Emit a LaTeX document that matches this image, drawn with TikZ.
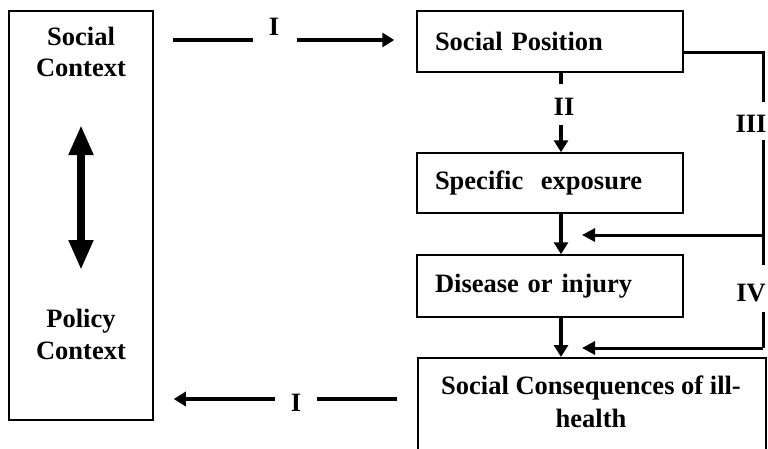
\documentclass[tikz,border=0pt]{standalone}
\usepackage{fontspec}
\setmainfont{Liberation Serif}
\usetikzlibrary{arrows.meta,calc}
\tikzset{
  box/.style={draw, line width=1.5pt, inner sep=0pt},
  wbox/.style={box, align=left, inner xsep=18pt, text width=230pt, minimum width=266pt},
  txt/.style={font=\fontsize{26.5}{31}\selectfont\bfseries, inner sep=0pt, align=center},
  conn/.style={line width=4pt, -{Triangle[length=12pt,width=14pt]}},
  plain/.style={line width=4pt},
  fb/.style={line width=3pt},
  fbarr/.style={line width=3pt, -{Triangle[length=13pt,width=13pt]}},
  big/.style={line width=8pt, {Triangle[length=30pt,width=23pt]}-{Triangle[length=30pt,width=23pt]}}
}
\begin{document}
\begin{tikzpicture}[x=1pt,y=-1pt]
\useasboundingbox (0,0) rectangle (768,448);
\clip (0,0) rectangle (768,448);
\fill[white] (0,0) rectangle (768,448);
% left box
\node[box, minimum width=144pt, minimum height=409pt] (ctx) at (81,215.5) {};
\node[txt] (sctx) at (81,52) {Social\\Context};
\node[txt, font=\fontsize{26.5}{32}\selectfont\bfseries] (pctx) at (81,334) {Policy\\Context};
\coordinate (dtop) at (81,125);
\coordinate (dbot) at (81,270);
\draw[big] (dtop) -- (dbot);
% right boxes
\node[wbox, minimum height=61pt, font=\fontsize{26.5}{31}\selectfont\bfseries] (sp) at (550,41.5) {Social Position};
\node[wbox, minimum height=60pt, font=\fontsize{26.5}{31}\selectfont\bfseries] (se) at (550,183) {Specific\ \ exposure};
\node[wbox, minimum height=62pt, font=\fontsize{26.5}{31}\selectfont\bfseries] (dis) at (550,286) {Disease or injury};
\node[box, anchor=north west, minimum width=348pt, minimum height=130pt] (cons) at (417,357) {};
\node[txt, font=\fontsize{26.5}{33}\selectfont\bfseries] (const) at (591,402) {Social Consequences of ill-\\health};
% I arrows
\node[txt] (i1) at (274,27) {I};
\coordinate (i1a) at (173,40);
\coordinate (i1b) at (253,40);
\coordinate (i1c) at (297,40);
\draw[plain] (i1a) -- (i1b);
\draw[conn] (i1c) -- ([xshift=-22pt]sp.west |- i1c);
\node[txt] (i2) at (296,403) {I};
\coordinate (i2a) at (397,399);
\coordinate (i2b) at (317,399);
\coordinate (i2c) at (275,399);
\draw[plain] (i2a) -- (i2b);
\draw[conn] (i2c) -- ([xshift=20pt]ctx.east |- i2c);
% II
\node[txt] (l2) at (564,107) {II};
\draw[plain] ([xshift=11pt]sp.south) -- ++(0,11);
\coordinate (l2a) at (561,125);
\draw[conn] (l2a) -- ([xshift=11pt]se.north);
% vertical arrows
\draw[conn] ([xshift=11pt]se.south) -- ([xshift=11pt]dis.north);
\draw[conn] ([xshift=11pt]dis.south) -- ([xshift=144pt]cons.north west);
% feedback
\coordinate (r0) at (763,52);
\coordinate (r1) at (763,102);
\coordinate (r2) at (763,140);
\coordinate (r3) at (763,235);
\coordinate (r4) at (763,265);
\coordinate (r5) at (763,312);
\coordinate (r6) at (763,348);
\coordinate (a1) at (582,235);
\coordinate (a2) at (582,348);
\draw[fb] (sp.east |- r0) -- (r0) -- (r1);
\node[txt] (l3) at (751,124) {III};
\draw[fb] (r2) -- (r3) -- (r4);
\node[txt] (l4) at (751,293) {IV};
\draw[fb] (r5) -- (r6);
\draw[fbarr] (r3) -- (a1);
\draw[fbarr] (r6) -- (a2);
\end{tikzpicture}
\end{document}
